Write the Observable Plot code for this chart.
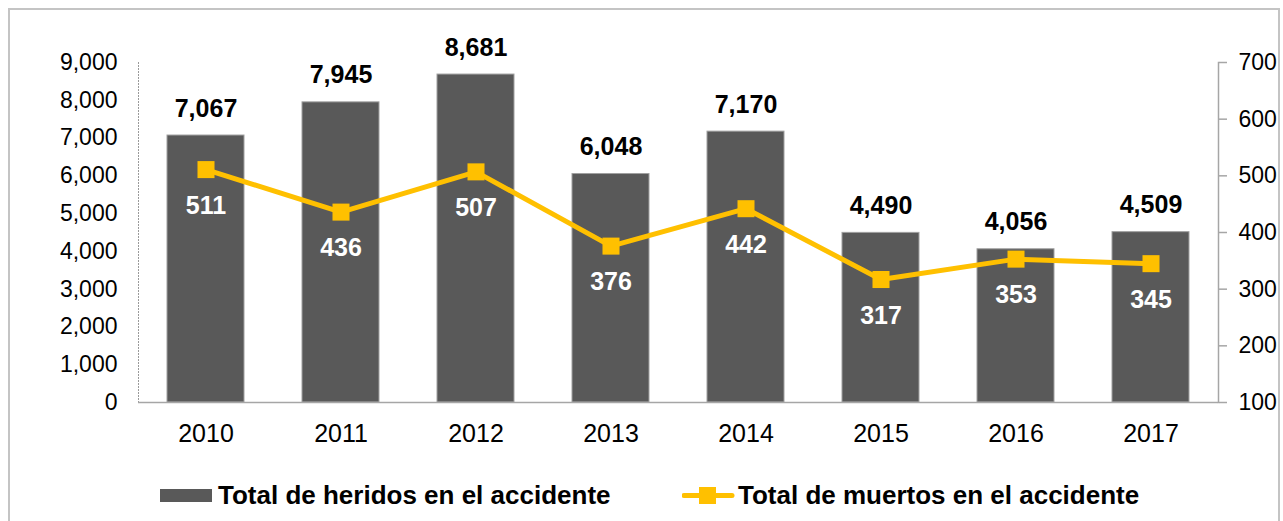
<!DOCTYPE html>
<html><head><meta charset="utf-8">
<script src="https://cdn.jsdelivr.net/npm/d3@7"></script>
<script src="https://cdn.jsdelivr.net/npm/@observablehq/plot@0.6"></script>
<style>
body{margin:0;background:#fff;font-family:Arial,"Liberation Sans",sans-serif;}
#wrap{position:relative;width:1283px;height:521px;overflow:hidden;}
#border{position:absolute;left:8px;top:8px;width:1272px;height:530px;border:2px solid #c4c4c4;box-sizing:border-box;}
#chart{position:absolute;left:0;top:0;}
.leg{position:absolute;top:480px;height:30px;display:flex;align-items:center;font-weight:bold;font-size:26px;color:#000;}
</style></head><body>
<div id="wrap"><div id="border"></div><div id="chart"></div>
<div class="leg" style="left:160px"><svg width="58" height="30"><rect x="0" y="9" width="52" height="13" fill="#595959"/></svg>Total de heridos en el accidente</div>
<div class="leg" style="left:682px"><svg width="56" height="30"><line x1="2" y1="15.5" x2="50" y2="15.5" stroke="#FFC000" stroke-width="5" stroke-linecap="round"/><rect x="17" y="7" width="17" height="17" fill="#FFC000"/></svg>Total de muertos en el accidente</div>
</div>
<script>
const years = ["2010","2011","2012","2013","2014","2015","2016","2017"];
const heridos = [7067,7945,8681,6048,7170,4490,4056,4509];
const muertos = [511,436,507,376,442,317,353,345];
const leftTicks = [0,1000,2000,3000,4000,5000,6000,7000,8000,9000];
const rightTicks = [100,200,300,400,500,600,700];

// map right-axis values (100..700) onto left scale (0..9000)
const toLeft = v => (v - 100) * 15;
const fromLeft = y => y / 15 + 100;

const data = years.map((y, i) => ({year: y, heridos: heridos[i], muertos: muertos[i], m: toLeft(muertos[i])}));
const fmt = d3.format(",");

const chart = Plot.plot({
  width: 1283, height: 460,
  marginLeft: 138, marginRight: 65, marginTop: 62, marginBottom: 58,
  style: {fontFamily: "Arial, 'Liberation Sans', sans-serif", background: "transparent"},
  x: {type: "band", domain: years, paddingInner: 0.43, paddingOuter: 0.215, label: null},
  y: {domain: [0, 9000], label: null},
  marks: [
    Plot.frame({anchor: "left", stroke: "#9a9a9a", strokeDasharray: "1,2"}),
    Plot.frame({anchor: "right", stroke: "#a6a6a6", strokeWidth: 1.5}),
    Plot.barY(data, {x: "year", y: "heridos", fill: "#595959", stroke: "#a0a0a0", strokeWidth: 1}),
    Plot.ruleY([0], {stroke: "#a6a6a6", strokeWidth: 1.5}),
    Plot.axisY({ticks: leftTicks, tickSize: 0, tickPadding: 21, tickFormat: fmt, fontSize: 23, fill: "#000"}),
    Plot.axisY({anchor: "right", ticks: rightTicks.map(toLeft), tickSize: 8, stroke: "#a6a6a6", strokeWidth: 1.5, tickFormat: () => "", label: null}),
    Plot.axisY({anchor: "right", ticks: rightTicks.map(toLeft), tickSize: 0, tickPadding: 20, tickFormat: d => String(Math.round(fromLeft(d))), fontSize: 23, fill: "#000", label: null}),
    Plot.axisX({tickSize: 0, tickPadding: 22, fontSize: 25, fill: "#000"}),
    Plot.text(data, {x: "year", y: "heridos", text: d => fmt(d.heridos), dy: -27, fontSize: 25, fontWeight: "bold", fill: "#000"}),
    Plot.line(data, {x: "year", y: "m", stroke: "#FFC000", strokeWidth: 5}),
    Plot.dot(data, {x: "year", y: "m", symbol: "square", r: 9.6, fill: "#FFC000", stroke: "none"}),
    Plot.text(data, {x: "year", y: "m", text: d => String(d.muertos), dy: 36, fontSize: 25, fontWeight: "bold", fill: "#fff"})
  ]
});
document.getElementById("chart").appendChild(chart);
</script>
</body></html>
